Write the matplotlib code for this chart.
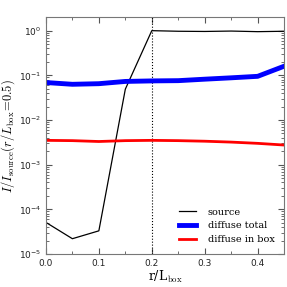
import matplotlib
matplotlib.use('Agg')
import matplotlib.pyplot as plt
from matplotlib.ticker import MultipleLocator, LogLocator

r = [0.0, 0.05, 0.1, 0.15, 0.2, 0.25, 0.3, 0.35, 0.4, 0.45]
source = [5.1e-5, 2.2e-5, 3.3e-5, 0.049, 1.0, 0.97, 0.96, 0.98, 0.95, 0.97]
diffuse_total = [0.069, 0.063, 0.065, 0.073, 0.075, 0.076, 0.082, 0.088, 0.095, 0.16]
diffuse_box = [3.5e-3, 3.45e-3, 3.3e-3, 3.45e-3, 3.5e-3, 3.45e-3, 3.35e-3, 3.2e-3, 3.0e-3, 2.75e-3]

plt.rcParams['mathtext.fontset'] = 'cm'
plt.rcParams['xtick.direction'] = 'in'
plt.rcParams['ytick.direction'] = 'in'

fig = plt.figure(figsize=(2.87, 2.87), dpi=100)
ax = fig.add_axes([0.16, 0.115, 0.83, 0.825])

ax.axvline(0.2, color='k', ls=':', lw=0.8)
ax.plot(r, source, color='k', lw=0.9, label='source')
ax.plot(r, diffuse_total, color='b', lw=3.5, label='diffuse total')
ax.plot(r, diffuse_box, color='r', lw=2, label='diffuse in box')

ax.set_yscale('log')
ax.set_xlim(0, 0.45)
ax.set_ylim(1e-5, 2)
ax.xaxis.set_major_locator(MultipleLocator(0.1))
ax.xaxis.set_minor_locator(MultipleLocator(0.05))
ax.yaxis.set_minor_locator(LogLocator(subs=range(2, 10)))
ax.tick_params(which='both', top=True, right=True, labelsize=6.5, color='#555555',
               labelcolor='#222222')
ax.tick_params(which='major', length=4)
ax.tick_params(which='minor', length=2.5)
for s in ax.spines.values():
    s.set_color('#777777')

ax.set_xlabel(r'r/L$_{\rm box}$', family='serif', fontsize=9, labelpad=1)
ax.set_ylabel(r'$I/I_{\rm source}(r/L_{\rm box}\!=\!0.5)$', fontsize=9, labelpad=1)
ax.legend(loc='lower right', frameon=False, prop={'family': 'serif', 'size': 7},
          handlelength=1.7, handletextpad=1.2, borderaxespad=0.6)

fig.savefig('out.png', dpi=100)
